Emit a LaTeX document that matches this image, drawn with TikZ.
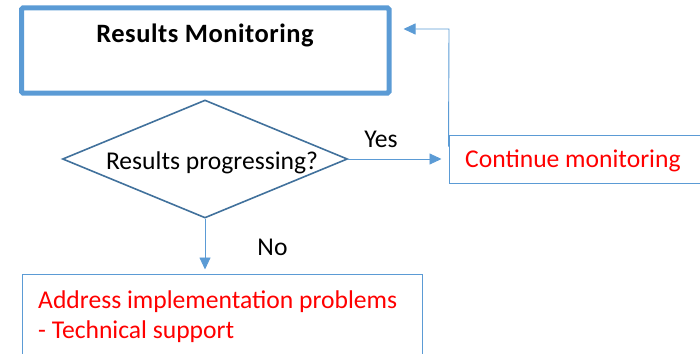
\documentclass[tikz,border=0pt]{standalone}
\usepackage{fontspec}
\setmainfont{Carlito}
\newfontfamily\titlefont[LetterSpace=2]{Carlito}
\usetikzlibrary{shapes.geometric,arrows.meta,calc}
\definecolor{boxblue}{HTML}{5B9BD5}
\definecolor{darkblue}{HTML}{41719C}
\definecolor{alertred}{HTML}{FF0000}
\tikzset{
  mainbox/.style={draw=boxblue,line width=5pt,rounded corners=1.5pt,inner sep=0pt},
  thinbox/.style={draw=boxblue,line width=1pt,inner sep=0pt},
  decision/.style={diamond,draw=darkblue,line width=1.6pt,inner sep=0pt},
  flow/.style={draw=boxblue,line width=0.9pt,-{Triangle[length=12pt,width=11pt]}},
  txt/.style={inner sep=0pt,font=\fontsize{25.6pt}{30pt}\selectfont},
}
\begin{document}
\begin{tikzpicture}[x=1pt,y=-1pt]
\useasboundingbox (0,0) rectangle (700,353);
\clip (0,0) rectangle (700,353);

% boxes
\node[mainbox,minimum width=367.5pt,minimum height=85pt] (top) at (205.25,50.5) {};
\node[txt,anchor=base,font=\titlefont\fontsize{26.5pt}{30pt}\selectfont\bfseries] (toptxt) at (205,43) {Results Monitoring};

\node[decision,minimum width=285pt,minimum height=118pt] (dec) at (205,159) {};
\node[txt,anchor=base] (dectxt) at (212,169.5) {Results progressing?};

\node[thinbox,minimum width=271pt,minimum height=48pt] (cont) at (584.5,159) {};
\node[txt,anchor=base west,text=alertred] (conttxt) at (465,167) {Continue monitoring};

\node[thinbox,minimum width=399.3pt,minimum height=96pt] (fix) at (222.35,322) {};
% the base anchor of a two-line node sits on its last line
\node[txt,anchor=base west,align=left,text=alertred] (fixtxt) at (38,338)
  {Address implementation problems\\- Technical support};

% connectors
\draw[flow,shorten >=7pt] (dec.east) -- (cont.west);
\node[txt,anchor=base] (yes) at (381,147) {Yes};

\coordinate (fbstart) at ($(cont.north west)+(0,12)$);
\coordinate (fbturn) at (449,29);
\draw[flow,shorten >=12pt] (fbstart) -- (fbturn) -- (fbturn -| top.east);

\draw[flow,shorten >=4pt] (dec.south) -- (dec.south |- fix.north);
\node[txt,anchor=base] (no) at (272.5,255) {No};
\end{tikzpicture}
\end{document}
